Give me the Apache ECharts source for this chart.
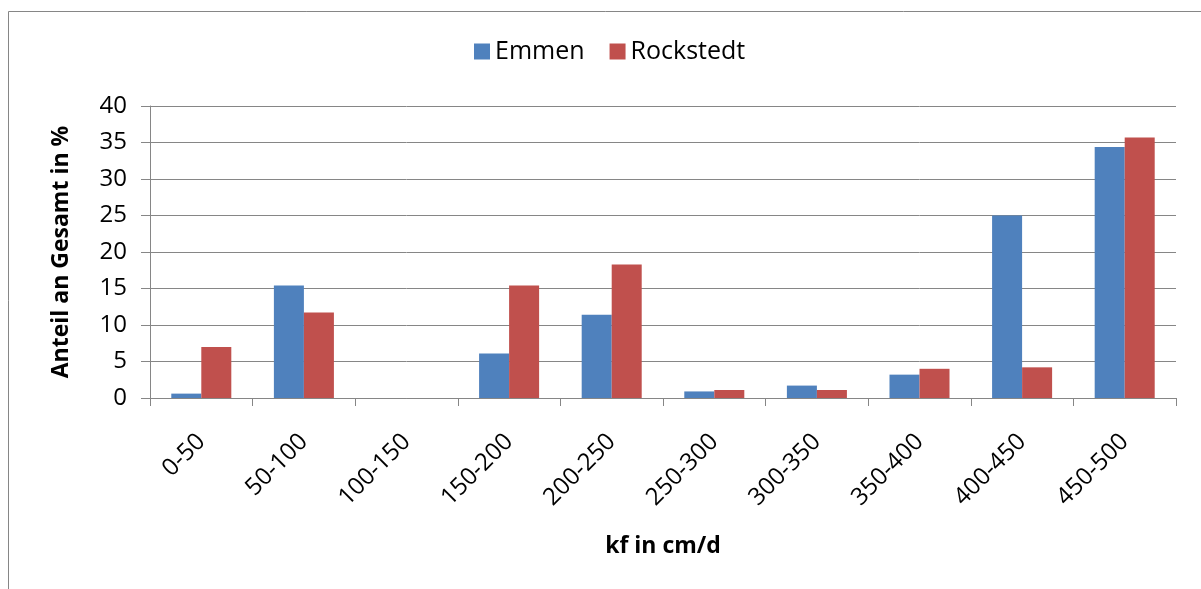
<!DOCTYPE html>
<html>
<head>
<meta charset="utf-8">
<title>kf-Verteilung Emmen / Rockstedt</title>
<script src="https://cdn.jsdelivr.net/npm/echarts@6/dist/echarts.min.js"></script>
<style>
  html, body { margin: 0; padding: 0; background: #ffffff; }
  #chart { width: 1201px; height: 589px; }
</style>
</head>
<body>
<div id="chart"></div>
<script>
// kf classes (cm/d)
const categories = ['0-50', '50-100', '100-150', '150-200', '200-250', '250-300', '300-350', '350-400', '400-450', '450-500'];
// share of total in percent per class
const emmen = [0.6, 15.4, 0, 6.1, 11.4, 0.9, 1.7, 3.2, 25.0, 34.4];
const rockstedt = [7.0, 11.7, 0, 15.4, 18.3, 1.1, 1.1, 4.0, 4.2, 35.7];
const yTicks = { min: 0, max: 40, interval: 5 };

const FONT = '"Open Sans"';
const GRID_GRAY = '#868686';

const chart = echarts.init(document.getElementById('chart'), null, { renderer: 'canvas' });

chart.setOption({
  animation: false,
  backgroundColor: '#ffffff',
  textStyle: { fontFamily: FONT, color: '#000000' },
  graphic: [{
    type: 'rect',
    shape: { x: 8.5, y: 11.5, width: 1400, height: 800 },
    style: { fill: 'none', stroke: GRID_GRAY, lineWidth: 1 },
    silent: true
  }],
  legend: {
    left: 469,
    top: 34,
    itemWidth: 16,
    itemHeight: 16,
    itemGap: 25,
    icon: 'rect',
    textStyle: { fontFamily: FONT, fontSize: 25, color: '#000000' },
    data: ['Emmen', 'Rockstedt']
  },
  grid: { left: 150, top: 106, right: 25, bottom: 191, containLabel: false },
  xAxis: {
    type: 'category',
    data: categories,
    name: 'kf in cm/d',
    nameLocation: 'middle',
    nameGap: 137,
    nameTextStyle: { fontFamily: FONT, fontSize: 23, fontWeight: 'bold', color: '#000000' },
    axisLine: { lineStyle: { color: GRID_GRAY, width: 1 } },
    axisTick: { show: true, length: 8, alignWithLabel: false, lineStyle: { color: GRID_GRAY } },
    axisLabel: { rotate: 45, margin: 40, fontFamily: FONT, fontSize: 24, color: '#000000', interval: 0 }
  },
  yAxis: {
    type: 'value',
    min: yTicks.min,
    max: yTicks.max,
    interval: yTicks.interval,
    name: 'Anteil an Gesamt in %',
    nameLocation: 'middle',
    nameRotate: 90,
    nameGap: 77,
    nameTextStyle: { fontFamily: FONT, fontSize: 23, fontWeight: 'bold', color: '#000000' },
    axisLine: { show: true, lineStyle: { color: GRID_GRAY, width: 1 } },
    axisTick: { show: true, inside: false, length: 9, lineStyle: { color: GRID_GRAY } },
    axisLabel: { margin: 23, fontFamily: FONT, fontSize: 24, color: '#000000' },
    splitLine: { show: true, lineStyle: { color: GRID_GRAY, width: 1 } }
  },
  series: [
    {
      name: 'Emmen',
      type: 'bar',
      data: emmen,
      barGap: '0%',
      barCategoryGap: '41.5%',
      itemStyle: { color: '#4F81BD' }
    },
    {
      name: 'Rockstedt',
      type: 'bar',
      data: rockstedt,
      barGap: '0%',
      barCategoryGap: '41.5%',
      itemStyle: { color: '#C0504D' }
    }
  ]
});
</script>
</body>
</html>
